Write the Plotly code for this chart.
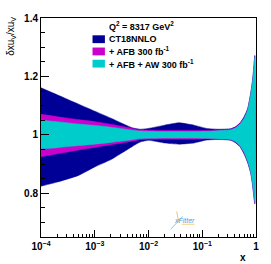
import plotly.graph_objects as go

# x grid
x_vals = [1e-4, 2e-4, 5e-4, 1e-3, 2e-3, 5e-3, 7e-3, 1e-2, 2e-2, 3.7e-2, 7e-2,
          0.12, 0.2, 0.34, 0.42, 0.5, 0.6, 0.7, 0.8, 0.86, 0.9, 0.95]

ct18_up = [1.161, 1.137, 1.105, 1.081, 1.057, 1.024, 1.019, 1.022, 1.033, 1.041, 1.033,
           1.022, 1.019, 1.021, 1.028, 1.040, 1.062, 1.090, 1.145, 1.185, 1.220, 1.272]
ct18_lo = [0.824, 0.838, 0.861, 0.890, 0.915, 0.960, 0.975, 0.981, 0.972, 0.968, 0.972,
           0.982, 0.984, 0.981, 0.972, 0.960, 0.934, 0.904, 0.867, 0.830, 0.798, 0.763]

afb_up = [1.070, 1.062, 1.052, 1.045, 1.036, 1.022, 1.017, 1.016, 1.015, 1.015, 1.015,
          1.015, 1.016, 1.019, 1.026, 1.038, 1.058, 1.087, 1.142, 1.182, 1.217, 1.268]
afb_lo = [0.925, 0.935, 0.948, 0.957, 0.966, 0.978, 0.983, 0.985, 0.985, 0.985, 0.985,
          0.986, 0.985, 0.983, 0.974, 0.962, 0.938, 0.908, 0.870, 0.834, 0.803, 0.767]

aw_up = [1.050, 1.045, 1.037, 1.032, 1.026, 1.016, 1.013, 1.012, 1.011, 1.011, 1.011,
         1.012, 1.014, 1.017, 1.024, 1.036, 1.056, 1.085, 1.140, 1.180, 1.215, 1.265]
aw_lo = [0.952, 0.956, 0.963, 0.968, 0.974, 0.983, 0.987, 0.988, 0.989, 0.989, 0.989,
         0.988, 0.986, 0.984, 0.976, 0.963, 0.940, 0.910, 0.872, 0.836, 0.805, 0.770]

series_names = ["CT18NNLO", "+ AFB 300 fb<sup>-1</sup>", "+ AFB + AW 300 fb<sup>-1</sup>"]
series_colors = ["#000096", "#cc00cc", "#00cccc"]

x_ticks = [1e-4, 1e-3, 1e-2, 1e-1, 1]
x_ticktext = ["10<sup>−4</sup>", "10<sup>−3</sup>", "10<sup>−2</sup>", "10<sup>−1</sup>", "1"]
y_ticks = [0.8, 1.0, 1.2, 1.4]
y_ticktext = ["0.8", "1", "1.2", "1.4"]

fig = go.Figure()
for up, lo, col, name in zip([ct18_up, afb_up, aw_up], [ct18_lo, afb_lo, aw_lo],
                             series_colors, series_names):
    fig.add_trace(go.Scatter(
        x=x_vals + x_vals[::-1], y=up + lo[::-1],
        fill="toself", fillcolor=col, mode="lines",
        line=dict(color=col, width=0.5, shape="spline", smoothing=0.5),
        name=name, showlegend=False, hoverinfo="skip"))

font_b = dict(family="Liberation Sans, Arial, sans-serif", size=10, color="black", weight="bold")

minor_x = [m * 10 ** e for e in range(-4, 0) for m in range(2, 10)]

fig.update_layout(
    width=271, height=264,
    margin=dict(l=41, r=13, t=13, b=27),
    paper_bgcolor="white", plot_bgcolor="white",
    showlegend=False,
    xaxis=dict(type="log", range=[-4, 0], tickvals=x_ticks, ticktext=x_ticktext,
               ticks="inside", ticklen=7, tickcolor="black", tickwidth=1,
               showline=True, linecolor="black", linewidth=1, mirror=True,
               showgrid=False, zeroline=False, tickfont=dict(font_b, size=10),
               minor=dict(tickmode="array", tickvals=minor_x, ticks="inside",
                          ticklen=3, tickcolor="black", showgrid=False)),
    yaxis=dict(range=[0.65, 1.4], tickvals=y_ticks, ticktext=y_ticktext,
               ticks="inside", ticklen=8, tickcolor="black", tickwidth=1,
               showline=True, linecolor="black", linewidth=1, mirror=True,
               showgrid=False, zeroline=False, tickfont=dict(font_b, size=10),
               minor=dict(dtick=0.05, tick0=0.65, ticks="inside", ticklen=4,
                          tickcolor="black", showgrid=False)),
)

# pixel helpers for paper coords
PL, PR, PT, PB = 41, 258, 13, 237
def px(xp):
    return (xp - PL) / (PR - PL)
def py(yp):
    return (PB - yp) / (PB - PT)

ann = []
ann.append(dict(text="Q<sup>2</sup> = 8317 GeV<sup>2</sup>", x=px(108), y=py(21.5),
                xref="paper", yref="paper", xanchor="left", yanchor="middle",
                showarrow=False, font=dict(font_b, size=9)))
rows = [34.7, 47.2, 59.7]
shapes = []
for yy, name, col in zip(rows, series_names, series_colors):
    ann.append(dict(text=name, x=px(107.5), y=py(yy), xref="paper", yref="paper",
                    xanchor="left", yanchor="middle", showarrow=False,
                    font=dict(font_b, size=9)))
    shapes.append(dict(type="rect", xref="paper", yref="paper",
                       x0=px(93), x1=px(105.5), y0=py(yy + 4), y1=py(yy - 4),
                       fillcolor=col, line=dict(width=0)))

# axis titles
ann.append(dict(text="δxu<sub>V</sub>/xu<sub>V</sub>", x=px(10), y=py(10),
                xref="paper", yref="paper", xanchor="center", yanchor="top",
                textangle=-90, showarrow=False,
                font=dict(family="Liberation Sans, Arial, sans-serif", size=10, color="black")))
ann.append(dict(text="<b>x</b>", x=px(245), y=py(257.5), xref="paper", yref="paper",
                xanchor="center", yanchor="middle", showarrow=False,
                font=dict(family="Liberation Sans, Arial, sans-serif", size=10, color="black")))
# xFitter logo
ann.append(dict(text="<i>xFitter</i>", x=px(186), y=py(220), xref="paper", yref="paper",
                xanchor="center", yanchor="middle", showarrow=False,
                font=dict(family="Liberation Sans, Arial, sans-serif", size=7, color="#4aa3df")))
shapes.append(dict(type="line", xref="paper", yref="paper", x0=px(172), y0=py(229),
                   x1=px(184), y1=py(216), line=dict(color="#8cc8f0", width=1)))
shapes.append(dict(type="line", xref="paper", yref="paper", x0=px(178), y0=py(211),
                   x1=px(180), y1=py(222), line=dict(color="#f5c36b", width=1)))
shapes.append(dict(type="line", xref="paper", yref="paper", x0=px(183), y0=py(224),
                   x1=px(196), y1=py(224), line=dict(color="#f5c36b", width=0.8)))

fig.update_layout(annotations=ann, shapes=shapes)
fig.write_html("out.html", config={"displayModeBar": False},
               post_script="document.body.style.margin='0';document.body.style.overflow='hidden';")
